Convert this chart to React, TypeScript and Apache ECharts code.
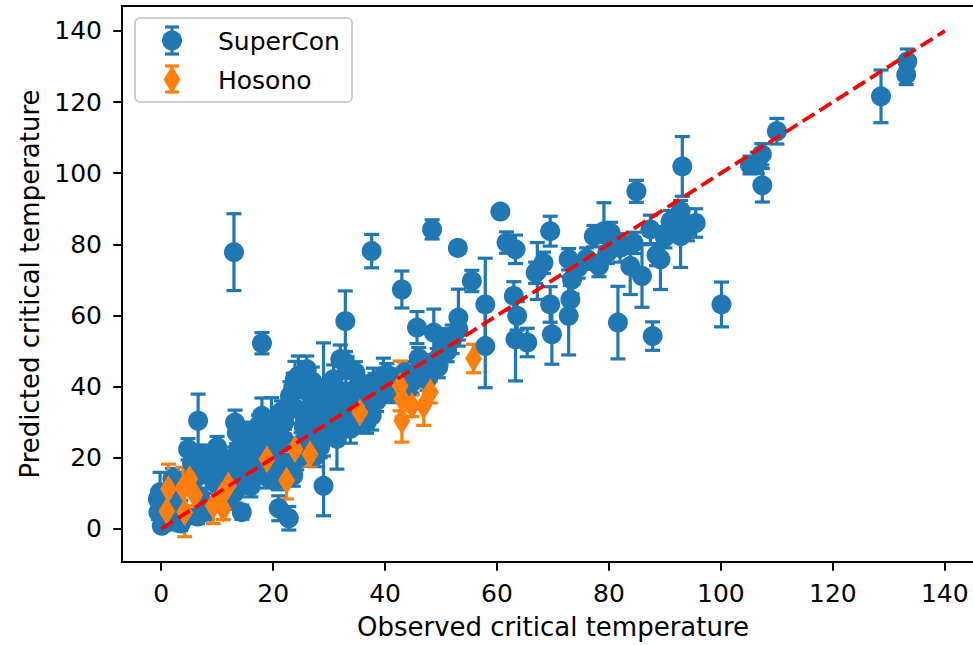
import React, { useEffect, useRef } from "react";
import * as echarts from "echarts";

// ---- data ----
const xTicks = [0, 20, 40, 60, 80, 100, 120, 140];
const yTicks = [0, 20, 40, 60, 80, 100, 120, 140];

const superconX = [
  0.1, -0.5, -0.6, -0.2, 0.5, 1.0, 1.5, 2.5, 3.0, 3.5, 4.8, 5.5, 6.6, 7.5, 6.0, 7.0, 8.0, 9.0, 9.5, 10.8,
  11.5, 12.0, 13.2, 13.2, 13.5, 13.8, 14.4, 15.0, 15.6, 16.0, 16.5, 17.4, 17.0, 18.0, 13.0, 18.0, 18.5, 19.0, 19.7, 20.2,
  20.9, 21.0, 22.8, 21.5, 22.0, 23.3, 23.6, 24.2, 25.1, 23.0, 23.6, 24.2, 23.9, 24.5, 26.0, 25.5, 26.6, 26.6, 27.2, 28.0,
  28.4, 29.0, 29.0, 29.0, 29.6, 30.5, 30.8, 31.1, 31.4, 32.0, 32.0, 32.9, 32.9, 33.2, 33.8, 34.0, 34.7, 35.0, 35.5, 36.7,
  36.7, 37.6, 37.6, 37.9, 38.2, 39.7, 40.3, 41.0, 42.0, 43.0, 44.8, 45.7, 45.7, 46.5, 48.1, 48.4, 48.7, 49.3, 50.0, 51.1,
  51.1, 52.0, 53.1, 53.1, 53.0, 55.5, 57.9, 57.9, 60.6, 61.7, 63.3, 63.0, 63.6, 63.3, 65.4, 66.9, 67.2, 68.3, 69.5, 69.5,
  69.8, 72.8, 73.4, 73.1, 72.8, 74.5, 76.0, 77.3, 79.1, 78.2, 79.7, 80.3, 81.6, 82.0, 83.8, 84.4, 84.9, 85.9, 87.4, 87.8,
  88.5, 89.2, 90.0, 91.0, 92.8, 92.8, 93.1, 94.0, 95.5, 100.1, 105.2, 106.5, 107.3, 107.4, 110.0, 128.6, 133.1, 133.3,
  16.0, 17.5, 18.5, 19.5, 14.0, 12.5, 11.0, 10.0, 15.0, 20.5, 22.0, 25.0, 27.5, 26.5, 28.5, 30.0, 31.5, 33.0, 34.5, 36.0,
  38.5, 39.5, 41.5, 43.5, 44.0, 46.0, 47.5, 49.5, 50.5, 25.5, 27.0, 21.5, 3.5, 6.5, 8.0, 2.0,
];
const superconY = [
  0.9, 4.7, 8.4, 10.3, 3.0, 6.5, 2.0, 7.5, 4.0, 12.0, 22.4, 18.5, 30.4, 20.6, 14.0, 9.0, 16.0, 17.8, 13.0, 11.2,
  15.0, 8.0, 10.3, 29.9, 27.0, 22.4, 4.7, 13.1, 19.6, 24.0, 16.5, 29.0, 21.5, 52.2, 77.8, 31.8, 25.5, 14.5, 29.9, 22.5,
  14.0, 5.8, 3.0, 18.0, 25.0, 17.8, 15.0, 19.6, 20.6, 37.4, 39.8, 33.7, 42.1, 43.0, 44.9, 28.5, 30.9, 26.2, 36.5, 33.0,
  23.0, 12.1, 30.9, 39.3, 37.4, 27.0, 42.1, 39.8, 25.3, 31.8, 47.7, 58.4, 46.8, 45.4, 28.1, 34.5, 44.0, 37.4, 30.0, 29.9,
  37.4, 31.8, 78.1, 41.2, 40.7, 43.0, 43.5, 38.5, 41.0, 67.3, 41.2, 44.0, 56.6, 46.0, 44.9, 84.2, 55.2, 47.7, 49.0, 50.0,
  53.3, 53.3, 59.4, 56.1, 79.0, 69.7, 63.1, 51.4, 89.2, 80.5, 78.6, 65.5, 59.9, 53.3, 52.4, 72.0, 72.5, 74.8, 83.7, 63.1,
  54.7, 75.8, 70.1, 64.5, 59.9, 73.5, 76.0, 82.3, 83.7, 73.9, 77.6, 83.2, 58.0, 79.0, 73.9, 80.4, 94.9, 71.1, 84.2, 54.2,
  77.0, 75.8, 82.0, 86.5, 89.3, 82.3, 101.9, 84.0, 86.0, 63.1, 102.3, 102.9, 105.3, 96.6, 111.8, 121.6, 127.7, 131.4,
  12.0, 18.5, 21.0, 17.0, 16.0, 18.5, 20.0, 23.0, 27.0, 27.5, 30.0, 24.0, 20.5, 33.5, 28.0, 32.5, 35.5, 38.5, 32.0, 40.0,
  36.0, 39.0, 42.0, 44.0, 39.0, 48.0, 42.0, 45.5, 52.0, 39.0, 41.5, 33.0, 1.5, 3.5, 5.0, 14.0,
];
const superconErr = [
  1.5, 2, 2.5, 5.6, 2, 2, 1.5, 3, 2, 4, 3, 3, 7.5, 3, 3, 2.5, 3, 3, 3, 3,
  3, 2.5, 3, 3.5, 3, 3, 2, 3, 3, 3, 3, 3, 3, 3, 10.8, 5, 3, 3, 7, 3,
  3, 3.5, 3.3, 3, 3, 3, 3, 3, 3, 4, 4, 4, 5, 5.6, 3.7, 3, 4, 3, 4, 4,
  3, 8.4, 4, 13, 4, 3, 4, 4, 8.5, 4, 4, 8.5, 3, 3, 4, 4, 3, 4, 3, 3,
  4, 4, 4.7, 4, 3, 5, 3, 3, 3, 5.2, 3, 3, 4.5, 3, 3, 2.7, 6.6, 3, 3, 3,
  3, 4, 8, 3, 1.5, 3, 13, 11.7, 1, 3, 4, 4, 4, 11.7, 4, 3, 8, 3, 4.2, 5,
  8.4, 3, 4, 4, 11, 3, 3, 3, 8, 3, 3, 3, 10.2, 4, 8, 3, 3.1, 8.8, 4, 4,
  3, 8.5, 3, 3, 3, 8.8, 8.4, 3, 4, 6.3, 2.5, 3, 3, 4.7, 3.6, 7.4, 2.8, 3.5,
  3, 3, 3, 3, 3, 3, 3, 3, 3, 3, 4, 3, 3, 4, 3, 4, 4, 4, 3, 3,
  3, 3, 3, 3, 3, 3, 3, 3, 3, 4, 4, 3, 2, 2, 2.5, 3,
];

const hosonoX = [1.0, 1.3, 3.9, 5.1, 4.2, 6.0, 9.3, 10.8, 11.1, 12.0, 18.9, 22.4, 23.9, 26.6, 35.5, 42.7, 43.0, 43.0, 44.8, 46.9, 48.1, 55.8];
const hosonoY = [5.0, 11.2, 11.5, 14.0, 4.7, 9.5, 6.5, 9.3, 5.6, 12.2, 19.6, 13.6, 22.4, 21.0, 32.7, 40.2, 36.5, 30.4, 34.6, 34.6, 38.4, 47.9];
const hosonoErr = [3, 7, 5.8, 3, 6.9, 3, 5, 3, 3, 3, 3, 5.2, 3, 3.3, 3, 7, 5, 6, 3, 5.5, 3, 4];

const idealLine = [[0, 0], [140, 140]];

const seriesNames = ["SuperCon", "Hosono"];
const xName = "Observed critical temperature";
const yName = "Predicted critical temperature";

// ---- styles ----
const BLUE = "#1f77b4";
const ORANGE = "#ff7f0e";
const FONT = "DejaVu Sans";

function zip3(a: number[], b: number[], c: number[]) {
  return a.map((v, i) => [v, b[i], c[i]]);
}

function errorSeries(data: number[][], color: string) {
  return {
    type: "custom",
    silent: true,
    clip: true,
    data,
    encode: { x: 0, y: 1 },
    renderItem: (_params: any, api: any) => {
      const x = api.value(0);
      const y = api.value(1);
      const e = api.value(2);
      const top = api.coord([x, y + e]);
      const bot = api.coord([x, y - e]);
      const hw = 7.5;
      const style = { stroke: color, lineWidth: 3.2 };
      return {
        type: "group",
        children: [
          { type: "line", shape: { x1: top[0], y1: top[1], x2: bot[0], y2: bot[1] }, style },
          { type: "line", shape: { x1: top[0] - hw, y1: top[1], x2: top[0] + hw, y2: top[1] }, style },
          { type: "line", shape: { x1: bot[0] - hw, y1: bot[1], x2: bot[0] + hw, y2: bot[1] }, style },
        ],
      };
    },
  };
}

export default function App() {
  const ref = useRef<HTMLDivElement>(null);
  useEffect(() => {
    if (!ref.current) return;
    const chart = echarts.init(ref.current, undefined, { renderer: "svg" });
    const blue = zip3(superconX, superconY, superconErr);
    const orange = zip3(hosonoX, hosonoY, hosonoErr);
    const legendText = { fontSize: 25, fontFamily: FONT, fill: "#000", verticalAlign: "middle", align: "left" };
    const capStyle = (c: string) => ({ stroke: c, lineWidth: 3.2 });
    chart.setOption({
      animation: false,
      backgroundColor: "#fff",
      grid: {
        left: 122,
        right: 16,
        top: 6,
        bottom: 82,
        show: true,
        borderColor: "#000",
        borderWidth: 2,
      },
      xAxis: {
        type: "value",
        min: -7,
        max: 147,
        splitLine: { show: false },
        axisLine: { show: true, onZero: false, lineStyle: { color: "#000", width: 2 } },
        axisTick: { show: true, customValues: xTicks, length: 8.75, lineStyle: { color: "#000", width: 2 } },
        axisLabel: { customValues: xTicks, margin: 19, fontSize: 25, color: "#000", fontFamily: FONT },
        name: xName,
        nameLocation: "middle",
        nameGap: 52,
        nameTextStyle: { fontSize: 26, color: "#000", fontFamily: FONT },
      },
      yAxis: {
        type: "value",
        min: -9.3,
        max: 147,
        splitLine: { show: false },
        axisLine: { show: true, onZero: false, lineStyle: { color: "#000", width: 2 } },
        axisTick: { show: true, customValues: yTicks, length: 8.75, lineStyle: { color: "#000", width: 2 } },
        axisLabel: { customValues: yTicks, margin: 20, fontSize: 25, color: "#000", fontFamily: FONT },
        name: yName,
        nameLocation: "middle",
        nameGap: 78,
        nameTextStyle: { fontSize: 26, color: "#000", fontFamily: FONT },
      },
      series: [
        errorSeries(blue, BLUE),
        {
          type: "scatter",
          name: seriesNames[0],
          silent: true,
          data: blue,
          encode: { x: 0, y: 1 },
          symbol: "circle",
          symbolSize: 20,
          itemStyle: { color: BLUE, opacity: 1 },
        },
        errorSeries(orange, ORANGE),
        {
          type: "scatter",
          name: seriesNames[1],
          silent: true,
          data: orange,
          encode: { x: 0, y: 1 },
          symbol: "diamond",
          symbolSize: [17, 28],
          itemStyle: { color: ORANGE, opacity: 1 },
        },
        {
          type: "line",
          silent: true,
          data: idealLine,
          symbol: "none",
          lineStyle: { color: "#ff0000", width: 3.75, type: [14, 6] },
          z: 5,
        },
      ],
      graphic: [
        {
          type: "group",
          z: 100,
          children: [
            {
              type: "rect",
              shape: { x: 135, y: 18, width: 217, height: 84, r: 5 },
              style: { fill: "rgba(255,255,255,0.8)", stroke: "#cccccc", lineWidth: 2 },
            },
            { type: "line", shape: { x1: 172, y1: 27, x2: 172, y2: 54 }, style: capStyle(BLUE) },
            { type: "line", shape: { x1: 165, y1: 27, x2: 179, y2: 27 }, style: capStyle(BLUE) },
            { type: "line", shape: { x1: 165, y1: 54, x2: 179, y2: 54 }, style: capStyle(BLUE) },
            { type: "circle", shape: { cx: 172, cy: 40.5, r: 10 }, style: { fill: BLUE } },
            { type: "line", shape: { x1: 172, y1: 66, x2: 172, y2: 92 }, style: capStyle(ORANGE) },
            { type: "line", shape: { x1: 165, y1: 66, x2: 179, y2: 66 }, style: capStyle(ORANGE) },
            { type: "line", shape: { x1: 165, y1: 92, x2: 179, y2: 92 }, style: capStyle(ORANGE) },
            {
              type: "polygon",
              shape: { points: [[172, 65.5], [180.5, 79.5], [172, 93.5], [163.5, 79.5]] },
              style: { fill: ORANGE },
            },
            { type: "text", x: 218, y: 41, style: { ...legendText, text: seriesNames[0] } },
            { type: "text", x: 218, y: 80, style: { ...legendText, text: seriesNames[1] } },
          ],
        },
      ],
    });
    return () => chart.dispose();
  }, []);
  return (
    <div style={{ position: "fixed", left: 0, top: 0, width: 973, height: 645, overflow: "hidden", background: "#fff" }}>
      <div ref={ref} style={{ width: 1000, height: 645 }} />
    </div>
  );
}
